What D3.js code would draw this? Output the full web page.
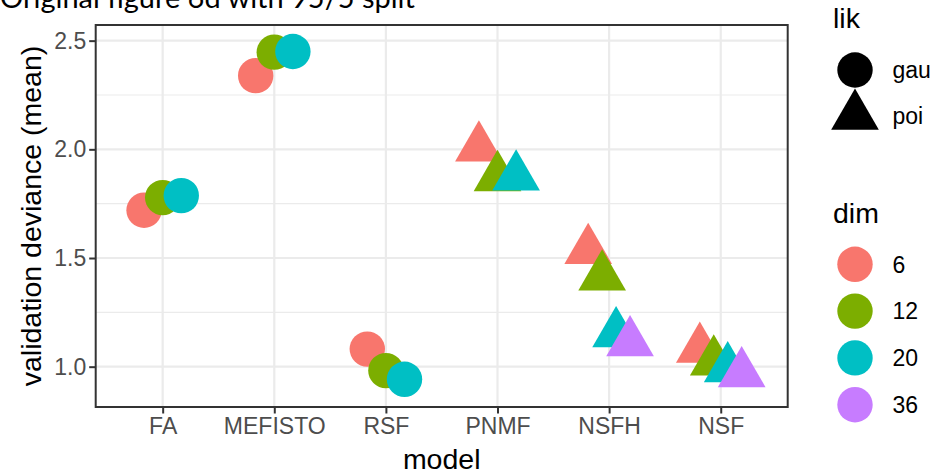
<!DOCTYPE html>
<html>
<head>
<meta charset="utf-8">
<script src="https://cdn.jsdelivr.net/npm/d3@7"></script>
<style>
  html, body { margin: 0; padding: 0; background: #fff; }
  svg { display: block; }
</style>
</head>
<body>
<svg id="chart" width="933" height="475"></svg>
<script>
// Model categories along the x axis
const models = ["FA", "MEFISTO", "RSF", "PNMF", "NSFH", "NSF"];
// Latent dimensions (colour groups)
const dims = ["6", "12", "20", "36"];
// Likelihood per model
const likByModel = { FA: "gau", MEFISTO: "gau", RSF: "gau", PNMF: "poi", NSFH: "poi", NSF: "poi" };
// Mean validation deviance per model, one value per dimension (null = not run)
const devDim6  = [1.720, 2.339, 1.081, 2.007, 1.536, 1.081];
const devDim12 = [1.778, 2.447, 0.982, 1.871, 1.414, 1.023];
const devDim20 = [1.787, 2.450, 0.942, 1.874, 1.153, 0.992];
const devDim36 = [null,  null,  null,  null,  1.111, 0.969];
const yTicks = [1.0, 1.5, 2.0, 2.5];
const yMinor = [1.25, 1.75, 2.25];
const likLevels = ["gau", "poi"];

const colors = d3.scaleOrdinal().domain(dims).range(["#F8766D", "#7CAE00", "#00BFC4", "#C77CFF"]);

const seriesValues = [devDim6, devDim12, devDim20, devDim36];
const points = [];
dims.forEach((d, di) => {
  models.forEach((m, mi) => {
    const v = seriesValues[di][mi];
    if (v != null) points.push({ model: m, dim: d, lik: likByModel[m], value: v });
  });
});

const svg = d3.select("#chart");
const panel = { left: 95.7, right: 787.7, top: 25, bottom: 407 };

const x = d3.scalePoint().domain(models).range([panel.left, panel.right]).padding(0.6);
const y = d3.scaleLinear().domain([0.8145, 2.572]).range([panel.bottom, panel.top]);
const step = x.step();
const dodgeWidth = 0.5 * step;

// dodge within each model according to how many dims it has
const byModel = d3.group(points, p => p.model);
points.forEach(p => {
  const grp = byModel.get(p.model);
  const n = grp.length;
  const i = grp.indexOf(p);
  p.dx = dodgeWidth * ((i + 0.5) / n - 0.5);
});

const tickFont = "'Liberation Sans', Arial, sans-serif";

// title line at the very top
const title = svg.append("text")
  .attr("x", 0).attr("y", 8)
  .attr("font-family", "Lato, 'Open Sans', sans-serif")
  .attr("font-size", 24)
  .attr("fill", "#000")
  .text("Original figure 6d with 95/5 split");
const tw = title.node().getComputedTextLength();
title.attr("font-size", 24 * 415 / tw);

// panel background
svg.append("rect")
  .attr("x", panel.left).attr("y", panel.top)
  .attr("width", panel.right - panel.left).attr("height", panel.bottom - panel.top)
  .attr("fill", "#fff");

const grid = svg.append("g");
grid.selectAll(".minor").data(yMinor).join("line")
  .attr("x1", panel.left).attr("x2", panel.right)
  .attr("y1", d => y(d)).attr("y2", d => y(d))
  .attr("stroke", "#EBEBEB").attr("stroke-width", 1.1);
grid.selectAll(".major").data(yTicks).join("line")
  .attr("x1", panel.left).attr("x2", panel.right)
  .attr("y1", d => y(d)).attr("y2", d => y(d))
  .attr("stroke", "#EBEBEB").attr("stroke-width", 2.2);
grid.selectAll(".vmajor").data(models).join("line")
  .attr("x1", d => x(d)).attr("x2", d => x(d))
  .attr("y1", panel.top).attr("y2", panel.bottom)
  .attr("stroke", "#EBEBEB").attr("stroke-width", 2.2);

// symbols: filled circle (gau) and filled up-triangle (poi)
const R = 17.7;
function triPath(r) {
  const top = 1.5551 * r, half = 1.3468 * r, low = 0.7776 * r;
  return `M0,${-top}L${half},${low}L${-half},${low}Z`;
}

const marks = svg.append("g");
points.forEach(p => {
  const cx = x(p.model) + p.dx, cy = y(p.value);
  if (p.lik === "gau") {
    marks.append("circle").attr("cx", cx).attr("cy", cy).attr("r", R).attr("fill", colors(p.dim));
  } else {
    marks.append("path").attr("d", triPath(R)).attr("transform", `translate(${cx},${cy})`).attr("fill", colors(p.dim));
  }
});

// panel border
svg.append("rect")
  .attr("x", panel.left).attr("y", panel.top)
  .attr("width", panel.right - panel.left).attr("height", panel.bottom - panel.top)
  .attr("fill", "none").attr("stroke", "#333333").attr("stroke-width", 2);

// axes
const yAxis = d3.axisLeft(y).tickValues(yTicks).tickFormat(d3.format(".1f")).tickSize(6.5).tickPadding(3);
const gy = svg.append("g").attr("transform", `translate(${panel.left},0)`).call(yAxis);
const xAxis = d3.axisBottom(x).tickSize(6.5).tickPadding(4);
const gx = svg.append("g").attr("transform", `translate(0,${panel.bottom})`).call(xAxis);
[gy, gx].forEach(g => {
  g.select(".domain").remove();
  g.selectAll(".tick line").attr("stroke", "#333333").attr("stroke-width", 2);
  g.selectAll(".tick text").attr("fill", "#4D4D4D").attr("font-family", tickFont).attr("font-size", 23);
});

svg.append("text")
  .attr("x", (panel.left + panel.right) / 2).attr("y", 469)
  .attr("text-anchor", "middle")
  .attr("font-family", tickFont).attr("font-size", 28.5).attr("fill", "#000")
  .text("model");

svg.append("text")
  .attr("transform", `translate(41,${(panel.top + panel.bottom) / 2}) rotate(-90)`)
  .attr("text-anchor", "middle")
  .attr("font-family", tickFont).attr("font-size", 28.5).attr("fill", "#000")
  .text("validation deviance (mean)");

// legends
const lg = svg.append("g");
lg.append("text").attr("x", 833).attr("y", 28)
  .attr("font-family", tickFont).attr("font-size", 28.5).text("lik");
const likY = [70, 116];
likLevels.forEach((l, i) => {
  if (l === "gau") lg.append("circle").attr("cx", 855).attr("cy", likY[i]).attr("r", R).attr("fill", "#000");
  else lg.append("path").attr("d", triPath(R)).attr("transform", `translate(855,${likY[i]})`).attr("fill", "#000");
  lg.append("text").attr("x", 892.5).attr("y", likY[i]).attr("dy", "0.36em")
    .attr("font-family", tickFont).attr("font-size", 23).text(l);
});

lg.append("text").attr("x", 833).attr("y", 222.7)
  .attr("font-family", tickFont).attr("font-size", 28.5).text("dim");
dims.forEach((d, i) => {
  const cy = 264.3 + i * 46.8;
  lg.append("circle").attr("cx", 855).attr("cy", cy).attr("r", R).attr("fill", colors(d));
  lg.append("text").attr("x", 892.5).attr("y", cy).attr("dy", "0.36em")
    .attr("font-family", tickFont).attr("font-size", 23).text(d);
});
</script>
</body>
</html>
